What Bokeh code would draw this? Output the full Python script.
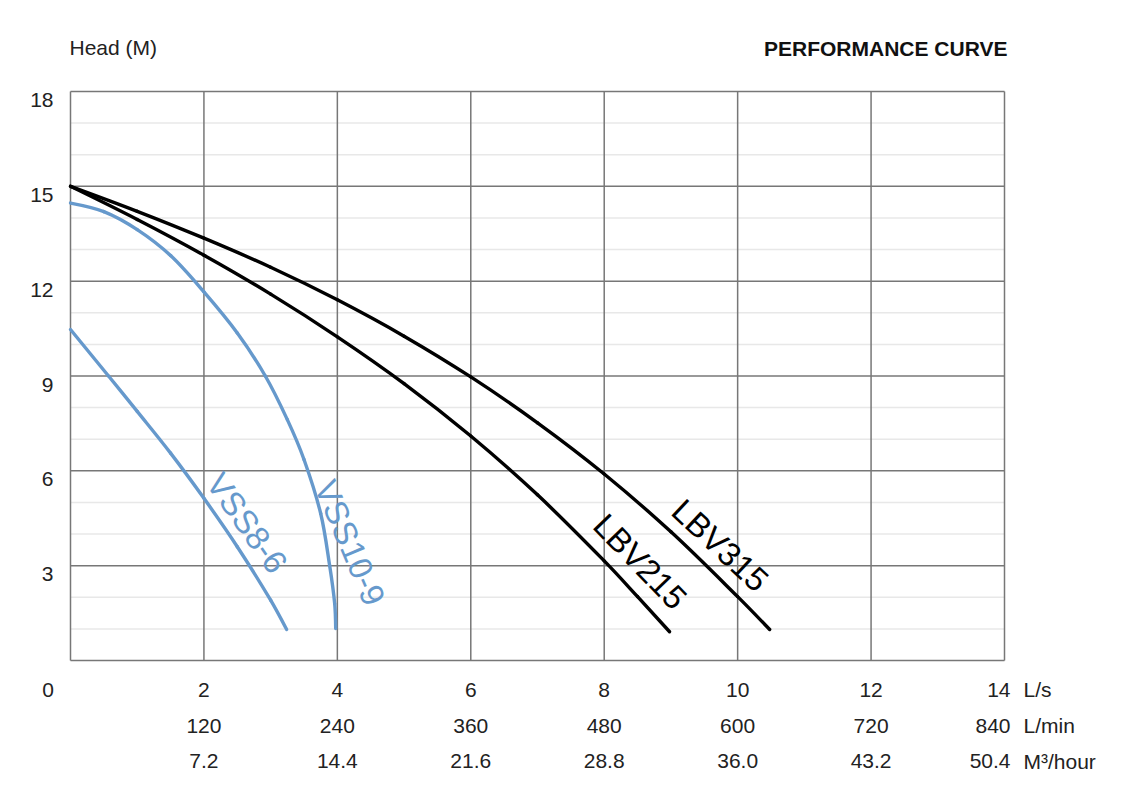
import math
from bokeh.plotting import figure
from bokeh.models import Range1d, Label, LabelSet, ColumnDataSource
from bokeh.core.properties import value
from bokeh.embed import file_html
from bokeh.resources import INLINE

# ---- data ----
lbv315_q = [0, 1, 2, 3, 4, 5, 6, 7, 8, 9, 10, 10.48]
lbv315_h = [15, 14.21, 13.36, 12.44, 11.41, 10.26, 8.97, 7.52, 5.90, 4.07, 2.02, 0.98]
lbv215_q = [0, 1, 2, 3, 4, 5, 6, 7, 8, 8.5, 8.98]
lbv215_h = [15, 13.95, 12.82, 11.59, 10.24, 8.76, 7.10, 5.24, 3.15, 2.02, 0.91]
vss109_q = [0, 0.5, 1, 1.5, 2, 2.5, 2.92, 3.25, 3.5, 3.75, 3.885, 3.96, 3.975]
vss109_h = [14.47, 14.20, 13.63, 12.81, 11.66, 10.36, 9.0, 7.62, 6.36, 4.65, 3.0, 1.8, 1.01]
vss86_q = [0, 0.57, 1, 1.5, 2, 2.5, 3, 3.24]
vss86_h = [10.47, 9.0, 7.88, 6.56, 5.13, 3.60, 1.91, 0.98]

x_grid = [0, 2, 4, 6, 8, 10, 12, 14]
y_grid = [0, 3, 6, 9, 12, 15, 18]
y_minor = [1, 2, 4, 5, 7, 8, 10, 11, 13, 14, 16, 17]
y_ticks = [3, 6, 9, 12, 15, 18]
x_ticks = [2, 4, 6, 8, 10, 12]
ls_labels = ["2", "4", "6", "8", "10", "12"]
lmin_labels = ["120", "240", "360", "480", "600", "720"]
m3h_labels = ["7.2", "14.4", "21.6", "28.8", "36.0", "43.2"]
last_tick = 14
last_labels = ["14", "840", "50.4"]
unit_labels = ["L/s", "L/min", "M³/hour"]
X_MAX, Y_MAX = 14, 18

FONT_NAME = "Liberation Sans"
FONT = value(FONT_NAME)
GRID = "#777777"
MINOR = "#e8e8e8"
BLUE = "#6699cc"
TXT = "#222222"

# ---- layout (pixels) ----
W, H = 1120, 783
LEFT, RIGHT, TOP, BOTTOM = 70, 1004, 91, 660
SX = (RIGHT - LEFT) / X_MAX
SY = (BOTTOM - TOP) / Y_MAX

p = figure(width=W, height=H, min_border=0,
           x_range=Range1d(-LEFT / SX, X_MAX + (W - RIGHT) / SX),
           y_range=Range1d(-(H - BOTTOM) / SY, Y_MAX + TOP / SY),
           output_backend="svg", toolbar_location=None, tools="")
p.xaxis.visible = False
p.yaxis.visible = False
p.xgrid.visible = False
p.ygrid.visible = False
p.outline_line_color = None
p.background_fill_color = "white"
p.border_fill_color = "white"

# ---- grid ----
p.segment(x0=[0] * len(y_minor), y0=y_minor, x1=[X_MAX] * len(y_minor), y1=y_minor,
          line_color=MINOR, line_width=1.5)
p.segment(x0=[0] * len(y_grid), y0=y_grid, x1=[X_MAX] * len(y_grid), y1=y_grid,
          line_color=GRID, line_width=1.5)
p.segment(x0=x_grid, y0=[0] * len(x_grid), x1=x_grid, y1=[Y_MAX] * len(x_grid),
          line_color=GRID, line_width=1.5)


# ---- smooth curves through the read points (cubic Bezier, natural ends) ----
def smooth(xs, ys):
    pts = [(x * SX, y * SY) for x, y in zip(xs, ys)]
    n = len(pts)
    d = [math.dist(pts[i], pts[i + 1]) for i in range(n - 1)]
    tang = [None] * n
    for i in range(1, n - 1):
        tang[i] = (pts[i + 1][0] - pts[i - 1][0], pts[i + 1][1] - pts[i - 1][1], d[i - 1] + d[i])
    out = {k: [] for k in ["x0", "y0", "x1", "y1", "cx0", "cy0", "cx1", "cy1"]}
    for i in range(n - 1):
        P0, P1 = pts[i], pts[i + 1]
        C0 = C1 = None
        if tang[i] is not None:
            tx, ty, tl = tang[i]
            a = d[i] / (3 * tl)
            C0 = (P0[0] + tx * a, P0[1] + ty * a)
        if tang[i + 1] is not None:
            ux, uy, ul = tang[i + 1]
            b = d[i] / (3 * ul)
            C1 = (P1[0] - ux * b, P1[1] - uy * b)
        if C0 is None and C1 is None:
            C0 = (P0[0] + (P1[0] - P0[0]) / 3, P0[1] + (P1[1] - P0[1]) / 3)
            C1 = (P1[0] - (P1[0] - P0[0]) / 3, P1[1] - (P1[1] - P0[1]) / 3)
        elif C0 is None:
            C0 = ((P0[0] + C1[0]) / 2, (P0[1] + C1[1]) / 2)
        elif C1 is None:
            C1 = ((P1[0] + C0[0]) / 2, (P1[1] + C0[1]) / 2)
        out["x0"].append(xs[i]); out["y0"].append(ys[i])
        out["x1"].append(xs[i + 1]); out["y1"].append(ys[i + 1])
        out["cx0"].append(C0[0] / SX); out["cy0"].append(C0[1] / SY)
        out["cx1"].append(C1[0] / SX); out["cy1"].append(C1[1] / SY)
    return out


for q, h, c in [(lbv315_q, lbv315_h, "black"), (lbv215_q, lbv215_h, "black"),
                (vss109_q, vss109_h, BLUE), (vss86_q, vss86_h, BLUE)]:
    p.bezier(source=ColumnDataSource(smooth(q, h)), x0="x0", y0="y0", x1="x1", y1="y1",
             cx0="cx0", cy0="cy0", cx1="cx1", cy1="cy1",
             line_color=c, line_width=3.4, line_cap="round")

# ---- curve labels ----
for txt, x, y, ang, c in [("LBV315", 9.74, 3.64, -43, "black"),
                          ("LBV215", 8.54, 3.13, -46, "black"),
                          ("VSS8-6", 2.645, 4.35, -54.6, BLUE),
                          ("VSS10-9", 4.19, 3.72, -67, BLUE)]:
    p.add_layout(Label(x=x, y=y, text=txt, angle=ang, angle_units="deg",
                       text_align="center", text_baseline="middle",
                       text_font=FONT_NAME, text_font_size="33px", text_color=c))

# ---- y tick labels ----
ysrc = ColumnDataSource(dict(y=y_ticks, t=[str(v) for v in y_ticks], x=[0] * len(y_ticks)))
p.add_layout(LabelSet(x="x", y="y", text="t", source=ysrc, x_offset=-17, y_offset=-8.5,
                      text_align="right", text_baseline="middle",
                      text_font=FONT, text_font_size="21px", text_color=TXT))

# ---- x tick label rows ----
rows = [-29, -65, -100.5]
for labels, off in zip([ls_labels, lmin_labels, m3h_labels], rows):
    src = ColumnDataSource(dict(x=x_ticks, t=labels, y=[0] * len(labels)))
    p.add_layout(LabelSet(x="x", y="y", text="t", source=src, y_offset=off,
                          text_align="center", text_baseline="middle",
                          text_font=FONT, text_font_size="21px", text_color=TXT))

for lab, unit, off in zip(last_labels, unit_labels, rows):
    p.add_layout(Label(x=last_tick, y=0, text=lab, x_offset=6, y_offset=off,
                       text_align="right", text_baseline="middle",
                       text_font=FONT_NAME, text_font_size="21px", text_color=TXT))
    p.add_layout(Label(x=last_tick, y=0, text=unit, x_offset=19, y_offset=off,
                       text_align="left", text_baseline="middle",
                       text_font=FONT_NAME, text_font_size="21px", text_color=TXT))

p.add_layout(Label(x=0, y=0, text="0", x_offset=-22.5, y_offset=rows[0],
                   text_align="center", text_baseline="middle",
                   text_font=FONT_NAME, text_font_size="21px", text_color=TXT))

# ---- headers ----
p.add_layout(Label(x=0, y=Y_MAX, text="Head (M)", x_offset=-1, y_offset=44,
                   text_align="left", text_baseline="middle",
                   text_font=FONT_NAME, text_font_size="21px", text_color=TXT))
p.add_layout(Label(x=X_MAX, y=Y_MAX, text="PERFORMANCE CURVE", x_offset=3, y_offset=43,
                   text_align="right", text_baseline="middle", text_font_style="bold",
                   text_font=FONT_NAME, text_font_size="21px", text_color="#111111"))

open("out.html", "w").write(file_html(p, INLINE))
